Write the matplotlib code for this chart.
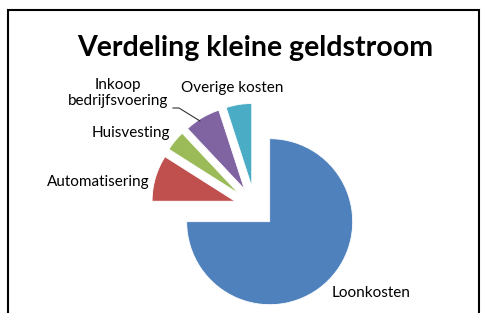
import numpy as np
import matplotlib.pyplot as plt
from matplotlib.patches import Rectangle

plt.rcParams['font.family'] = ['Lato', 'DejaVu Sans']

# data
labels = ['Loonkosten', 'Automatisering', 'Huisvesting',
          'Inkoop\nbedrijfsvoering', 'Overige kosten']
shares = [75, 9, 4, 7, 5]
colors = ['#4F81BD', '#C0504D', '#9BBB59', '#8064A2', '#4BACC6']
explode = [0.25, 0.25, 0.25, 0.25, 0.25]

W, H = 483, 313
cx, cy, R = 255, 207, 83   # pie centre / radius in pixels

fig = plt.figure(figsize=(W / 100, H / 100), dpi=100)
ax = fig.add_axes([0, 0, 1, 1])
ax.pie(shares, colors=colors, explode=explode, startangle=90,
       counterclock=False, radius=1,
       wedgeprops=dict(linewidth=0.6, edgecolor='#ffffff'))
ax.set_aspect('auto')
ax.set_xlim(-cx / R, (W - cx) / R)
ax.set_ylim(-(H - cy) / R, cy / R)
ax.axis('off')


def px(x, y):
    # pixel (from top-left) -> data coords
    return (x - cx) / R, (cy - y) / R


fs = 11
# labels
ax.text(*px(332, 293), labels[0], fontsize=fs, ha='left', va='center')
ax.text(*px(150, 182), labels[1], fontsize=fs, ha='right', va='center')
ax.text(*px(170, 133), labels[2], fontsize=fs, ha='right', va='center')
ax.text(*px(118, 93), labels[3], fontsize=fs, ha='center', va='center',
        linespacing=1.2)
ax.text(*px(232, 88), labels[4], fontsize=fs, ha='center', va='center')

# leader line for Inkoop
lx, ly = zip(px(173, 108), px(179, 108), px(200, 121))
ax.plot(lx, ly, color='#333333', lw=0.8)

# title
fig.text(255 / W, 1 - 48 / H, 'Verdeling kleine geldstroom', fontsize=20.5,
         fontweight='bold', ha='center', va='center')

# outer frame
fig.patches.append(Rectangle((8 / W, -0.05), (479 - 8) / W, 1.05 - 10 / H,
                             transform=fig.transFigure, fill=False,
                             edgecolor='black', lw=1.5))

fig.savefig('out.png', dpi=100)
